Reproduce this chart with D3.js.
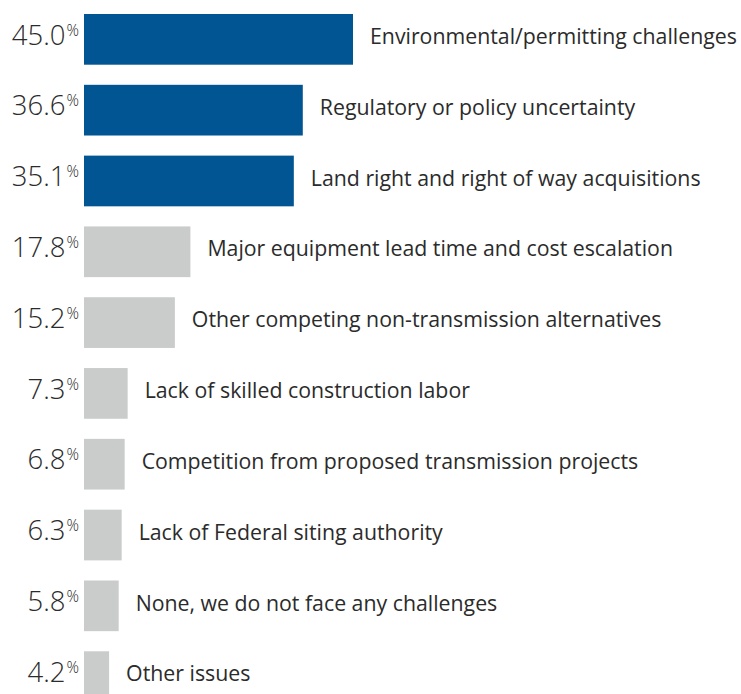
<!DOCTYPE html>
<html>
<head>
<meta charset="utf-8">
<script src="https://cdn.jsdelivr.net/npm/d3@7"></script>
<style>
  body { margin: 0; background: #fff; }
  svg { display: block; font-family: "Open Sans", Lato, sans-serif; }
</style>
</head>
<body>
<div id="chart"></div>
<script>
const width = 741;
const height = 694;

const categories = [
    "Environmental/permitting challenges",
    "Regulatory or policy uncertainty",
    "Land right and right of way acquisitions",
    "Major equipment lead time and cost escalation",
    "Other competing non-transmission alternatives",
    "Lack of skilled construction labor",
    "Competition from proposed transmission projects",
    "Lack of Federal siting authority",
    "None, we do not face any challenges",
    "Other issues"
];
const values = [45.0, 36.6, 35.1, 17.8, 15.2, 7.3, 6.8, 6.3, 5.8, 4.2];
const highlighted = [true, true, true, false, false, false, false, false, false, false];

const blue = "#005592";
const grey = "#c9cccb";
const textColor = "#2b2b2b";

const data = categories.map((c, i) => ({name: c, value: values[i], hi: highlighted[i]}));

const svg = d3.select("#chart").append("svg")
    .attr("width", width)
    .attr("height", height);

const x = d3.scaleLinear()
    .domain([0, 45])
    .range([84, 353]);

const y = d3.scaleBand()
    .domain(categories)
    .range([14, 702])
    .paddingInner(0.284)
    .paddingOuter(0);

svg.append("g")
    .selectAll("rect")
    .data(data)
    .enter()
    .append("rect")
    .attr("x", x(0))
    .attr("y", d => y(d.name))
    .attr("width", d => x(d.value) - x(0))
    .attr("height", y.bandwidth())
    .attr("fill", d => d.hi ? blue : grey);

// value labels with small % sign
const valueLabels = svg.append("g")
    .selectAll("text")
    .data(data)
    .enter()
    .append("text")
    .attr("x", 79)
    .attr("y", d => y(d.name) + 30.5)
    .attr("text-anchor", "end")
    .attr("font-weight", 300)
    .attr("fill", textColor);

valueLabels.append("tspan")
    .attr("font-size", 27.5)
    .text(d => d.value.toFixed(1));

valueLabels.append("tspan")
    .attr("font-size", 15.5)
    .attr("dx", 1)
    .attr("dy", -9)
    .text("%");

// category labels
svg.append("g")
    .selectAll("text")
    .data(data)
    .enter()
    .append("text")
    .attr("x", d => x(d.value) + 17)
    .attr("y", d => y(d.name) + y.bandwidth() / 2)
    .attr("dy", "0.22em")
    .attr("font-size", 21.3)
    .attr("fill", textColor)
    .text(d => d.name);
</script>
</body>
</html>
